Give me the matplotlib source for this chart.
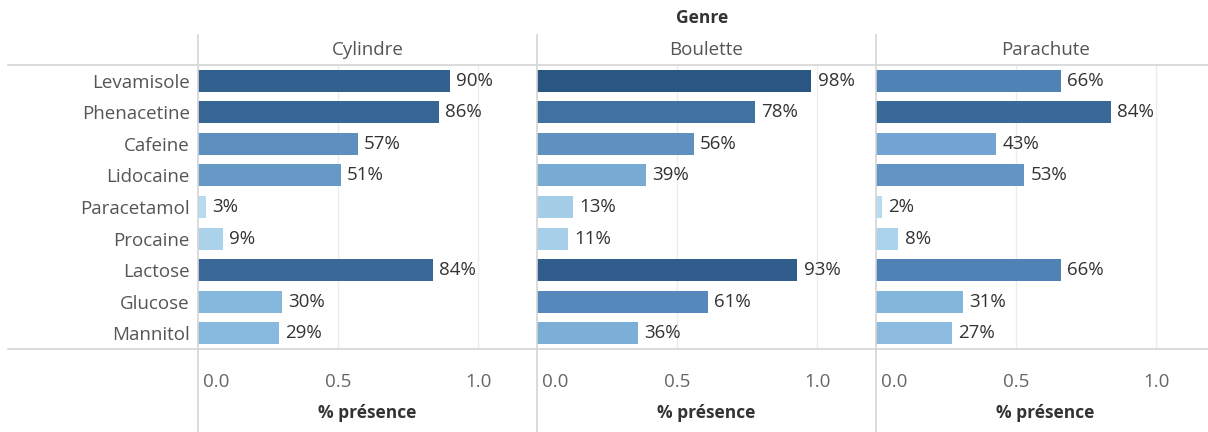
import matplotlib
matplotlib.use("Agg")
import matplotlib.pyplot as plt
import matplotlib.transforms as mtransforms
from matplotlib.colors import LinearSegmentedColormap, Normalize
from matplotlib.lines import Line2D

plt.rcParams['font.family'] = ['Open Sans', 'DejaVu Sans']

substances = ["Levamisole", "Phenacetine", "Cafeine", "Lidocaine", "Paracetamol",
              "Procaine", "Lactose", "Glucose", "Mannitol"]
genres = ["Cylindre", "Boulette", "Parachute"]
cylindre = [0.90, 0.86, 0.57, 0.51, 0.03, 0.09, 0.84, 0.30, 0.29]
boulette = [0.98, 0.78, 0.56, 0.39, 0.13, 0.11, 0.93, 0.61, 0.36]
parachute = [0.66, 0.84, 0.43, 0.53, 0.02, 0.08, 0.66, 0.31, 0.27]
series = [cylindre, boulette, parachute]
xticks = [0.0, 0.5, 1.0]
xtick_labels = ["0.0", "0.5", "1.0"]

W, H = 1208, 432
fig = plt.figure(figsize=(W / 100, H / 100), dpi=100)

cmap = LinearSegmentedColormap.from_list("tabblue", ["#b7dbf0", "#7fb2da", "#4f82b5", "#2a5683"])
allv = cylindre + boulette + parachute
norm = Normalize(vmin=min(allv), vmax=max(allv))

FS = 13.5
FSB = 12.5
y_top, y_bot = 65, 349
panel_x = [198, 537, 876]
panel_w = 339
grid_col = "#ececec"
sep_col = "#d4d4d4"
xmax = panel_w / 280.0

for i, (g, vals) in enumerate(zip(genres, series)):
    ax = fig.add_axes([panel_x[i] / W, (H - y_bot) / H, panel_w / W, (y_bot - y_top) / H])
    ypos = list(range(len(substances)))
    ax.barh(ypos, vals, height=0.7, color=[cmap(norm(v)) for v in vals], zorder=3)
    for y, v in zip(ypos, vals):
        ax.text(v + 0.022, y, f"{round(v*100):d}%", va="center", ha="left",
                fontsize=FS, color="#333333", zorder=4)
    ax.set_xlim(0, xmax)
    ax.set_ylim(len(substances) - 0.5, -0.5)
    ax.set_xticks(xticks)
    ax.set_xticklabels(xtick_labels)
    ax.tick_params(axis="x", length=0, pad=17, labelsize=FS, labelcolor="#666666")
    lbl0 = ax.get_xticklabels()[0]
    lbl0.set_ha("left")
    lbl0.set_transform(lbl0.get_transform() + mtransforms.ScaledTranslation(5 / 100, 0, fig.dpi_scale_trans))
    for t in xticks[1:]:
        ax.axvline(t, color=grid_col, lw=1, zorder=1)
    ax.set_yticks(ypos)
    if i == 0:
        ax.set_yticklabels(substances)
        ax.tick_params(axis="y", length=0, pad=6, labelsize=FS, labelcolor="#555555")
    else:
        ax.set_yticklabels([])
        ax.tick_params(axis="y", length=0)
    for s in ax.spines.values():
        s.set_visible(False)
    ax.set_xlabel("% présence", fontsize=FSB, fontweight="bold", color="#333333", labelpad=10)
    fig.text((panel_x[i] + panel_w / 2) / W, (H - 50) / H, g, ha="center", va="center",
             fontsize=FS, color="#555555")

for x in panel_x:
    fig.add_artist(Line2D([x / W, x / W], [0, (H - 35) / H], color=sep_col, lw=1.2))
fig.add_artist(Line2D([8 / W, 1], [(H - y_top) / H] * 2, color=sep_col, lw=1.2))
fig.add_artist(Line2D([8 / W, 1], [(H - y_bot) / H] * 2, color=sep_col, lw=1.2))

fig.text(702 / W, (H - 18) / H, "Genre", ha="center", va="center", fontsize=FSB,
         fontweight="bold", color="#333333")

fig.savefig("out.png", dpi=100)
